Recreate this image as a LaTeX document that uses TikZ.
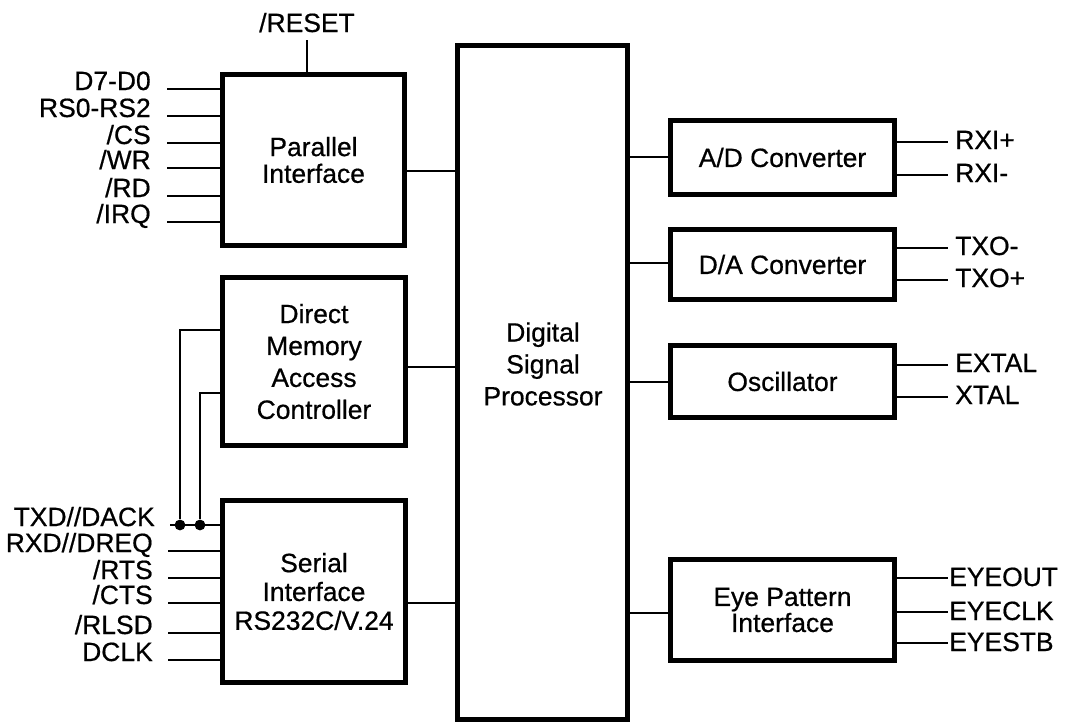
\documentclass[tikz,border=0pt]{standalone}
\usepackage{fontspec}
\setmainfont{Liberation Sans}[FakeBold=0.6]
\tikzset{
  blk/.style={draw, line width=3.6pt, align=center, inner sep=0pt, font=\fontsize{18.8}{22.7}\selectfont},
  sig/.style={line width=2.1pt},
  bus/.style={line width=1.6pt},
  lbl/.style={inner sep=0pt, font=\fontsize{18.8}{22}\selectfont},
  joint/.style={circle, fill, inner sep=0pt, minimum size=0.27cm},
}

\begin{document}
\begin{tikzpicture}[x=0.025cm, y=-0.025cm]%
\useasboundingbox (0,0) rectangle (1068,726);%
% processor in the middle
\node[blk, minimum width=4.25cm, minimum height=16.85cm] (dsp) at (542.5,382.5) {};%
\node[lbl, align=center, font=\fontsize{18.8}{22.7}\selectfont] (dsptxt) at (543,364) {Digital\\Signal\\Processor};%
% left side blocks
\node[blk, minimum width=4.55cm, minimum height=4.275cm, font=\fontsize{18.8}{19}\selectfont] (par) at (313.5,160) {Parallel\\Interface};%
\node[blk, minimum width=4.575cm, minimum height=4.2cm] (dma) at (314,361.5) {Direct\\Memory\\Access\\Controller};%
\node[blk, minimum width=4.575cm, minimum height=4.55cm, font=\fontsize{18.8}{20.5}\selectfont] (ser) at (314,591.5) {Serial\\Interface\\RS232C/V.24};%
% right side blocks
\node[blk, minimum width=5.6cm, minimum height=1.85cm] (adc) at (782.5,157.5) {A/D Converter};%
\node[blk, minimum width=5.6cm, minimum height=1.75cm] (dac) at (782.5,264.5) {D/A Converter};%
\node[blk, minimum width=5.6cm, minimum height=1.8cm] (osc) at (782.5,381.5) {Oscillator};%
\node[blk, minimum width=5.6cm, minimum height=2.525cm, font=\fontsize{18.8}{16}\selectfont] (eye) at (782.5,610) {Eye Pattern\\Interface};%
% links to the processor
\draw[bus] (par.east |- 0,171) -- (dsp.west |- 0,171);%
\draw[bus] (dma.east |- 0,367) -- (dsp.west |- 0,367);%
\draw[bus] (ser.east |- 0,603) -- (dsp.west |- 0,603);%
\draw[bus] (adc.west |- 0,157) -- (dsp.east |- 0,157);%
\draw[bus] (dac.west |- 0,263) -- (dsp.east |- 0,263);%
\draw[bus] (osc.west |- 0,382) -- (dsp.east |- 0,382);%
\draw[bus] (eye.west |- 0,613) -- (dsp.east |- 0,613);%
% reset pin
\node[lbl, anchor=base] (rst) at (307,32) {/RESET};%
\draw[sig] (rst.south |- 0,40) -- (rst.south |- par.north);%
% parallel port pins
\foreach \yy/\name in {89/{D7-D0}, 116/{RS0-RS2}, 143/{/CS}, 168/{/WR}, 196/{/RD}, 222/{/IRQ}} {%
  \draw[sig] (par.west |- 0,\yy) -- (167,\yy);%
  \node[lbl, anchor=base east] at (151,{\yy+1}) {\name};%
}%
% serial port pins
\foreach \yy/\name in {551/{RXD//DREQ}, 578/{/RTS}, 603/{/CTS}, 633/{/RLSD}, 660/{DCLK}} {%
  \draw[sig] (ser.west |- 0,\yy) -- (168,\yy);%
  \node[lbl, anchor=base east] at (153,{\yy+1}) {\name};%
}%
\coordinate (txd) at (170,525);%
\node[lbl, anchor=base east] at (155,526) {TXD//DACK};%
\draw[sig] (ser.west |- txd) -- (txd);%
% dma taps on the serial lines
\node[joint] (j1) at (180,525) {};%
\node[joint] (j2) at (200,525) {};%
\draw[sig] (dma.west |- 0,330) -| (j1);%
\draw[sig] (dma.west |- 0,393) -| (j2);%
% converter pins
\foreach \src/\yy/\name in {adc/142/{RXI+}, adc/175/{RXI-}, dac/248/{TXO-}, dac/280/{TXO+}, osc/365/{EXTAL}, osc/397/{XTAL}} {%
  \draw[sig] (\src.east |- 0,\yy) -- (948,\yy);%
  \node[lbl, anchor=base west] at (955,{\yy+7}) {\name};%
}%
\foreach \yy/\name in {578/{EYEOUT}, 612/{EYECLK}, 643/{EYESTB}} {%
  \draw[sig] (eye.east |- 0,\yy) -- (948,\yy);%
  \node[lbl, anchor=base west] at (949,{\yy+8}) {\name};%
}%
\end{tikzpicture}
\end{document}
